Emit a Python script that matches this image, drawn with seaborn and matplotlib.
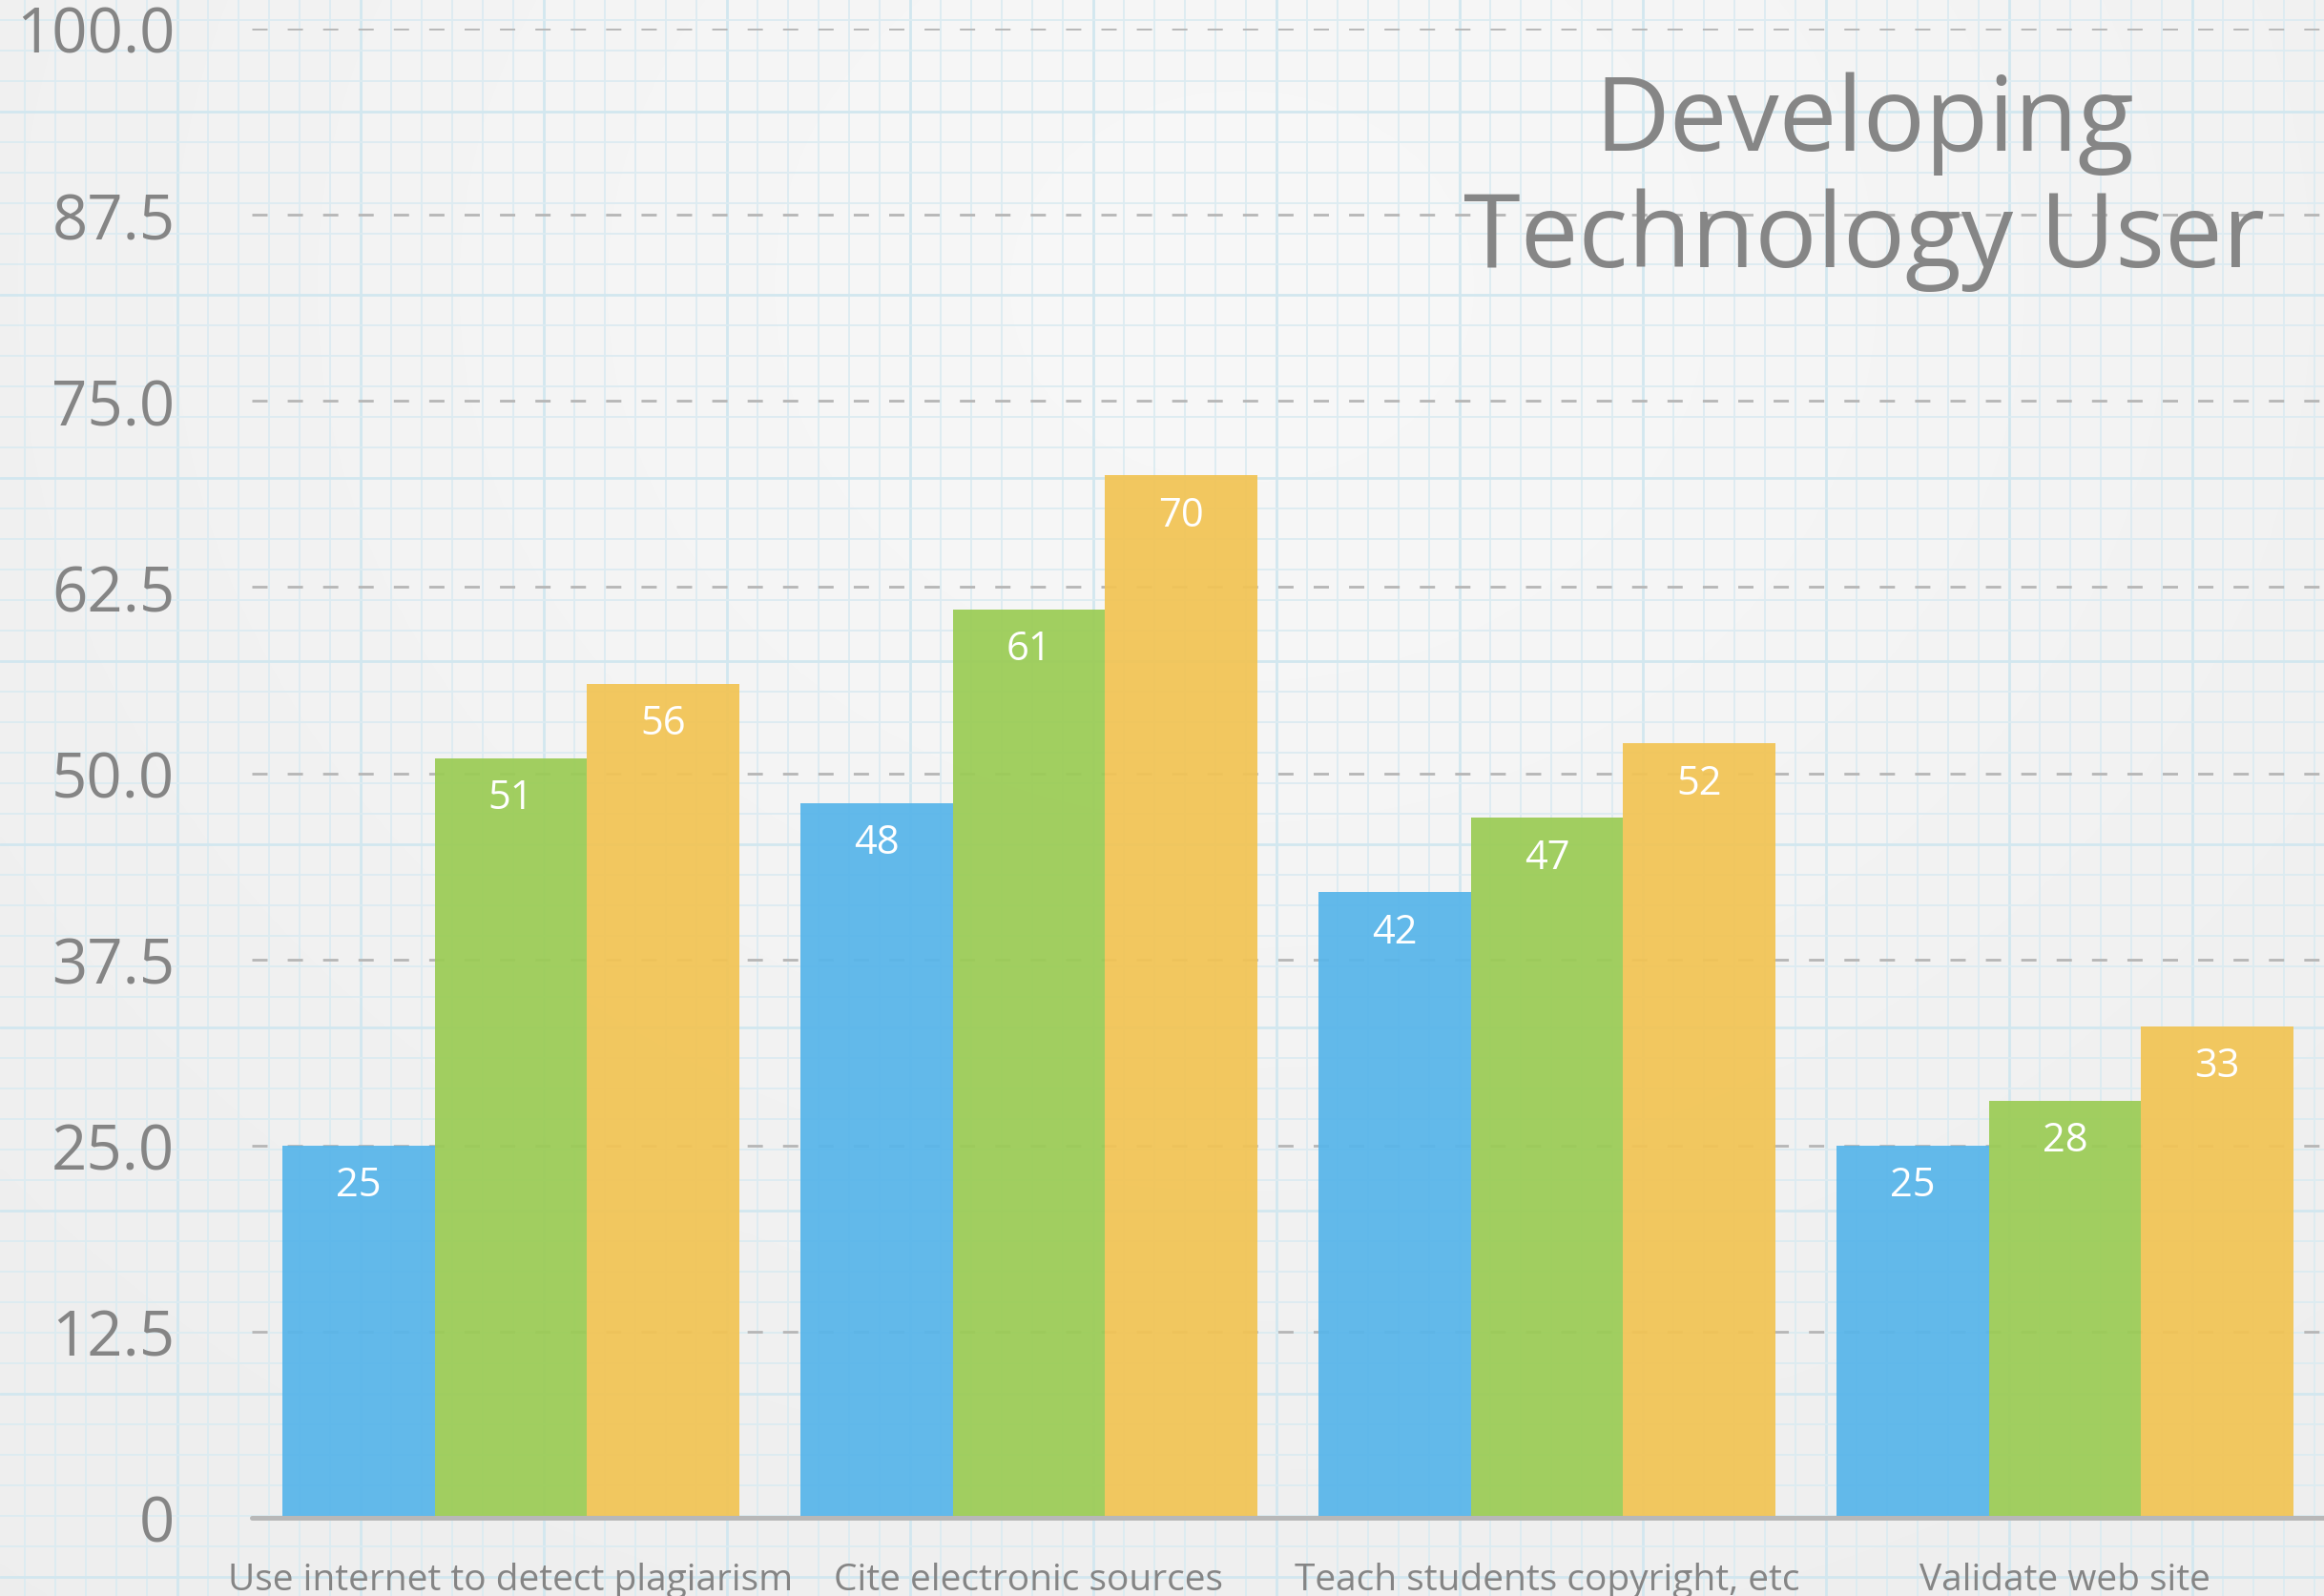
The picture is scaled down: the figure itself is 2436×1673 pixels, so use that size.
import numpy as np
import pandas as pd
import matplotlib
matplotlib.use("Agg")
import matplotlib.pyplot as plt
import seaborn as sns

# data
skills = ["Use internet to detect plagiarism", "Cite electronic sources",
          "Teach students copyright, etc", "Validate web site"]
series = ["Series 1", "Series 2", "Series 3"]
series_1 = [25, 48, 42, 25]
series_2 = [51, 61, 47, 28]
series_3 = [56, 70, 52, 33]
colors = ["#57b5ea", "#9bcc55", "#f2c454"]
y_ticks = [0, 12.5, 25, 37.5, 50, 62.5, 75, 87.5, 100]
y_tick_labels = ["0", "12.5", "25.0", "37.5", "50.0", "62.5", "75.0", "87.5", "100.0"]
title_lines = ["Developing", "Technology User"]

df = pd.DataFrame({
    "skill": skills * len(series),
    "series": np.repeat(series, len(skills)),
    "value": series_1 + series_2 + series_3,
})

sns.set_theme(style="white")
plt.rcParams["font.family"] = ["Open Sans", "DejaVu Sans"]

W, H = 2436, 1674
fig = plt.figure(figsize=(W / 100, H / 100), dpi=100)

# graph paper background
bg = fig.add_axes([0, 0, 1, 1], zorder=0)
yy, xx = np.mgrid[0:H:4, 0:W:4]
glow = np.exp(-(((xx - 1300) / 1300.0) ** 2 + ((yy - 300) / 1100.0) ** 2))
shade = 0.93 + 0.04 * glow
bg.imshow(np.dstack([shade] * 3), extent=(0, W, H, 0), aspect="auto",
          interpolation="bilinear")
for i, x in enumerate(np.arange(26, W, 32)):
    thick = i % 6 == 5
    bg.axvline(x, color="#d2e7ef" if thick else "#dcebf1", lw=2.0 if thick else 1.3)
for i, y in enumerate(np.arange(22, H, 32)):
    thick = i % 6 == 3
    bg.axhline(y, color="#d2e7ef" if thick else "#dcebf1", lw=2.0 if thick else 1.3)
bg.set_xlim(0, W)
bg.set_ylim(H, 0)
bg.axis("off")

# main chart
ax = fig.add_axes([264 / W, 1 - 1592 / H, 1 - 264 / W, (1592 - 31) / H], zorder=1)
ax.patch.set_alpha(0)
sns.barplot(data=df, x="skill", y="value", hue="series", palette=colors,
            width=0.883, gap=0, saturation=1, alpha=0.93, errorbar=None,
            linewidth=0, legend=False, ax=ax)

ax.set_xlim(-0.5, 3.5)
ax.set_ylim(0, 100)
ax.set_axisbelow(True)
ax.yaxis.grid(True, color="#b6b6b6", lw=2, ls=(0, (5.75, 7.6)))
ax.xaxis.grid(False)
sns.despine(ax=ax, left=True, bottom=True)
ax.axhline(0, color="#b8b8b8", lw=3.6, zorder=3, clip_on=False)

ax.set_yticks(y_ticks, y_tick_labels)
ax.tick_params(axis="y", length=0, pad=58, labelsize=47, labelcolor="#858585")
ax.tick_params(axis="x", length=0, pad=33, labelsize=28, labelcolor="#858585")
ax.set_xlabel("")
ax.set_ylabel("")

for c in ax.containers:
    ax.bar_label(c, fmt="%d", padding=-45, color="white", fontsize=30)

fig.text(1954 / W, 1 - 158 / H, title_lines[0], ha="center", va="baseline",
         fontsize=78, color="#868686")
fig.text(1954 / W, 1 - 280 / H, title_lines[1], ha="center", va="baseline",
         fontsize=78, color="#868686")

fig.savefig("out.png", dpi=100)
